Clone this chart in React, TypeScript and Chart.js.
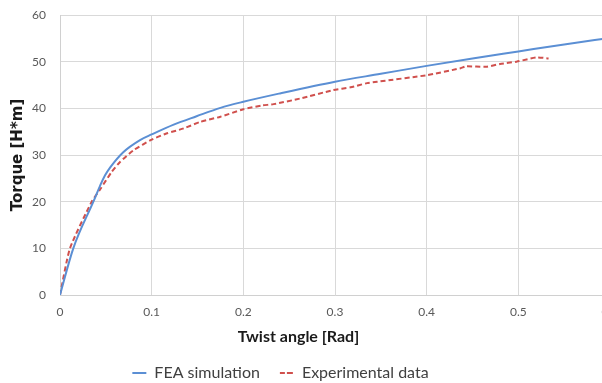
import { useEffect, useRef } from 'react';
import { Chart, registerables } from 'chart.js';

Chart.register(...registerables);

// FEA simulation (blue solid)
const feaAngle = [0, 0.0145, 0.0364, 0.0437, 0.049, 0.0546, 0.069, 0.0873, 0.1, 0.124, 0.149, 0.175, 0.2, 0.24, 0.3, 0.35, 0.4, 0.45, 0.5, 0.55, 0.6];
const feaTorque = [0, 10, 20, 23.4, 25.6, 27.3, 30.6, 33.2, 34.4, 36.5, 38.3, 40.1, 41.4, 43.2, 45.7, 47.4, 49.1, 50.7, 52.2, 53.7, 55.1];

// Experimental data (red dashed)
const expAngle = [0, 0.0109, 0.0346, 0.0437, 0.0564, 0.0655, 0.08, 0.1, 0.116, 0.135, 0.153, 0.175, 0.2, 0.22, 0.233, 0.262, 0.298, 0.317, 0.335, 0.346, 0.4, 0.437, 0.443, 0.465, 0.48, 0.498, 0.52, 0.533];
const expTorque = [0, 10, 20, 22.6, 26.4, 28.5, 31.0, 33.3, 34.6, 35.7, 37.1, 38.2, 39.8, 40.6, 40.9, 42.1, 43.9, 44.5, 45.4, 45.7, 47.1, 48.6, 49.0, 48.9, 49.5, 50.0, 50.9, 50.7];

const xTickValues = [0, 0.1, 0.2, 0.3, 0.4, 0.5, 0.6];
const yTickValues = [0, 10, 20, 30, 40, 50, 60];

const seriesNames = ['FEA simulation', 'Experimental data'];
const xTitle = 'Twist angle [Rad]';
const yTitle = 'Torque [H*m]';

const FONT = 'Lato, "Open Sans", "DejaVu Sans", sans-serif';

const shiftPlugin = {
  id: 'shiftBoxes',
  afterLayout(chart: any) {
    const lg = chart.legend;
    if (lg) {
      lg.left -= 24.5;
      lg.right -= 24.5;
    }
    const t = chart.titleBlock;
    if (t) {
      t.left -= 6.5;
      t.right -= 6.5;
    }
  },
};

export default function App() {
  const ref = useRef<HTMLCanvasElement | null>(null);

  useEffect(() => {
    if (!ref.current) return;
    const chart = new Chart(ref.current, {
      type: 'scatter',
      data: {
        datasets: [
          {
            label: seriesNames[0],
            data: feaAngle.map((x, i) => ({ x, y: feaTorque[i] })),
            showLine: true,
            borderColor: '#5b8fd4',
            backgroundColor: '#5b8fd4',
            borderWidth: 2,
            pointRadius: 0,
            cubicInterpolationMode: 'monotone',
          },
          {
            label: seriesNames[1],
            data: expAngle.map((x, i) => ({ x, y: expTorque[i] })),
            showLine: true,
            borderColor: '#d0504d',
            backgroundColor: '#d0504d',
            borderWidth: 2,
            borderDash: [5, 3],
            pointRadius: 0,
            tension: 0.2,
          },
        ],
      },
      options: {
        responsive: false,
        animation: false,
        devicePixelRatio: 1,
        layout: { padding: { left: 0, right: 10, top: 15, bottom: 0 } },
        scales: {
          x: {
            type: 'linear',
            min: 0,
            max: 0.6,
            afterBuildTicks: (scale: any) => {
              scale.ticks = xTickValues.map((v) => ({ value: v }));
            },
            afterFit: (scale: any) => {
              scale.height = 25;
              scale.paddingLeft = 0;
              scale.paddingRight = 0;
            },
            ticks: {
              padding: 10,
              color: '#595959',
              font: { family: FONT, size: 12 },
              callback: (v: any) => String(Math.round(Number(v) * 10) / 10),
              maxRotation: 0,
            },
            grid: { color: '#d9d9d9', lineWidth: 1, drawTicks: false },
            border: { color: '#d0d0d0', width: 1 },
            title: { display: false },
          },
          y: {
            type: 'linear',
            min: 0,
            max: 60,
            afterBuildTicks: (scale: any) => {
              scale.ticks = yTickValues.map((v) => ({ value: v }));
            },
            afterFit: (scale: any) => {
              scale.width = 60;
              scale.paddingTop = 0;
              scale.paddingBottom = 0;
            },
            ticks: {
              padding: 14,
              color: '#595959',
              font: { family: FONT, size: 12 },
            },
            grid: { color: '#d9d9d9', lineWidth: 1, drawTicks: false },
            border: { color: '#d0d0d0', width: 1 },
            title: {
              display: true,
              text: yTitle,
              color: '#1a1a1a',
              font: { family: '"DejaVu Sans", sans-serif', size: 15, weight: 'bold' },
              padding: { top: 9, bottom: 0 },
            },
          },
        },
        plugins: {
          title: {
            display: true,
            position: 'bottom',
            weight: 500,
            text: xTitle,
            color: '#1a1a1a',
            font: { family: FONT, size: 16, weight: 'bold', lineHeight: 1 },
            padding: { top: 9, bottom: 0 },
          },
          legend: {
            position: 'bottom',
            maxHeight: 38,
            labels: {
              color: '#404040',
              font: { family: FONT, size: 16 },
              boxWidth: 14,
              boxHeight: 0,
              padding: 20,
            },
          },
          tooltip: { enabled: false },
        },
      },
      plugins: [shiftPlugin],
    } as any);
    return () => chart.destroy();
  }, []);

  return (
    <div
      style={{
        position: 'fixed',
        left: 0,
        top: 0,
        width: 602,
        height: 383,
        overflow: 'hidden',
        background: '#ffffff',
      }}
    >
      <canvas ref={ref} width={620} height={383} style={{ display: 'block' }} />
    </div>
  );
}
